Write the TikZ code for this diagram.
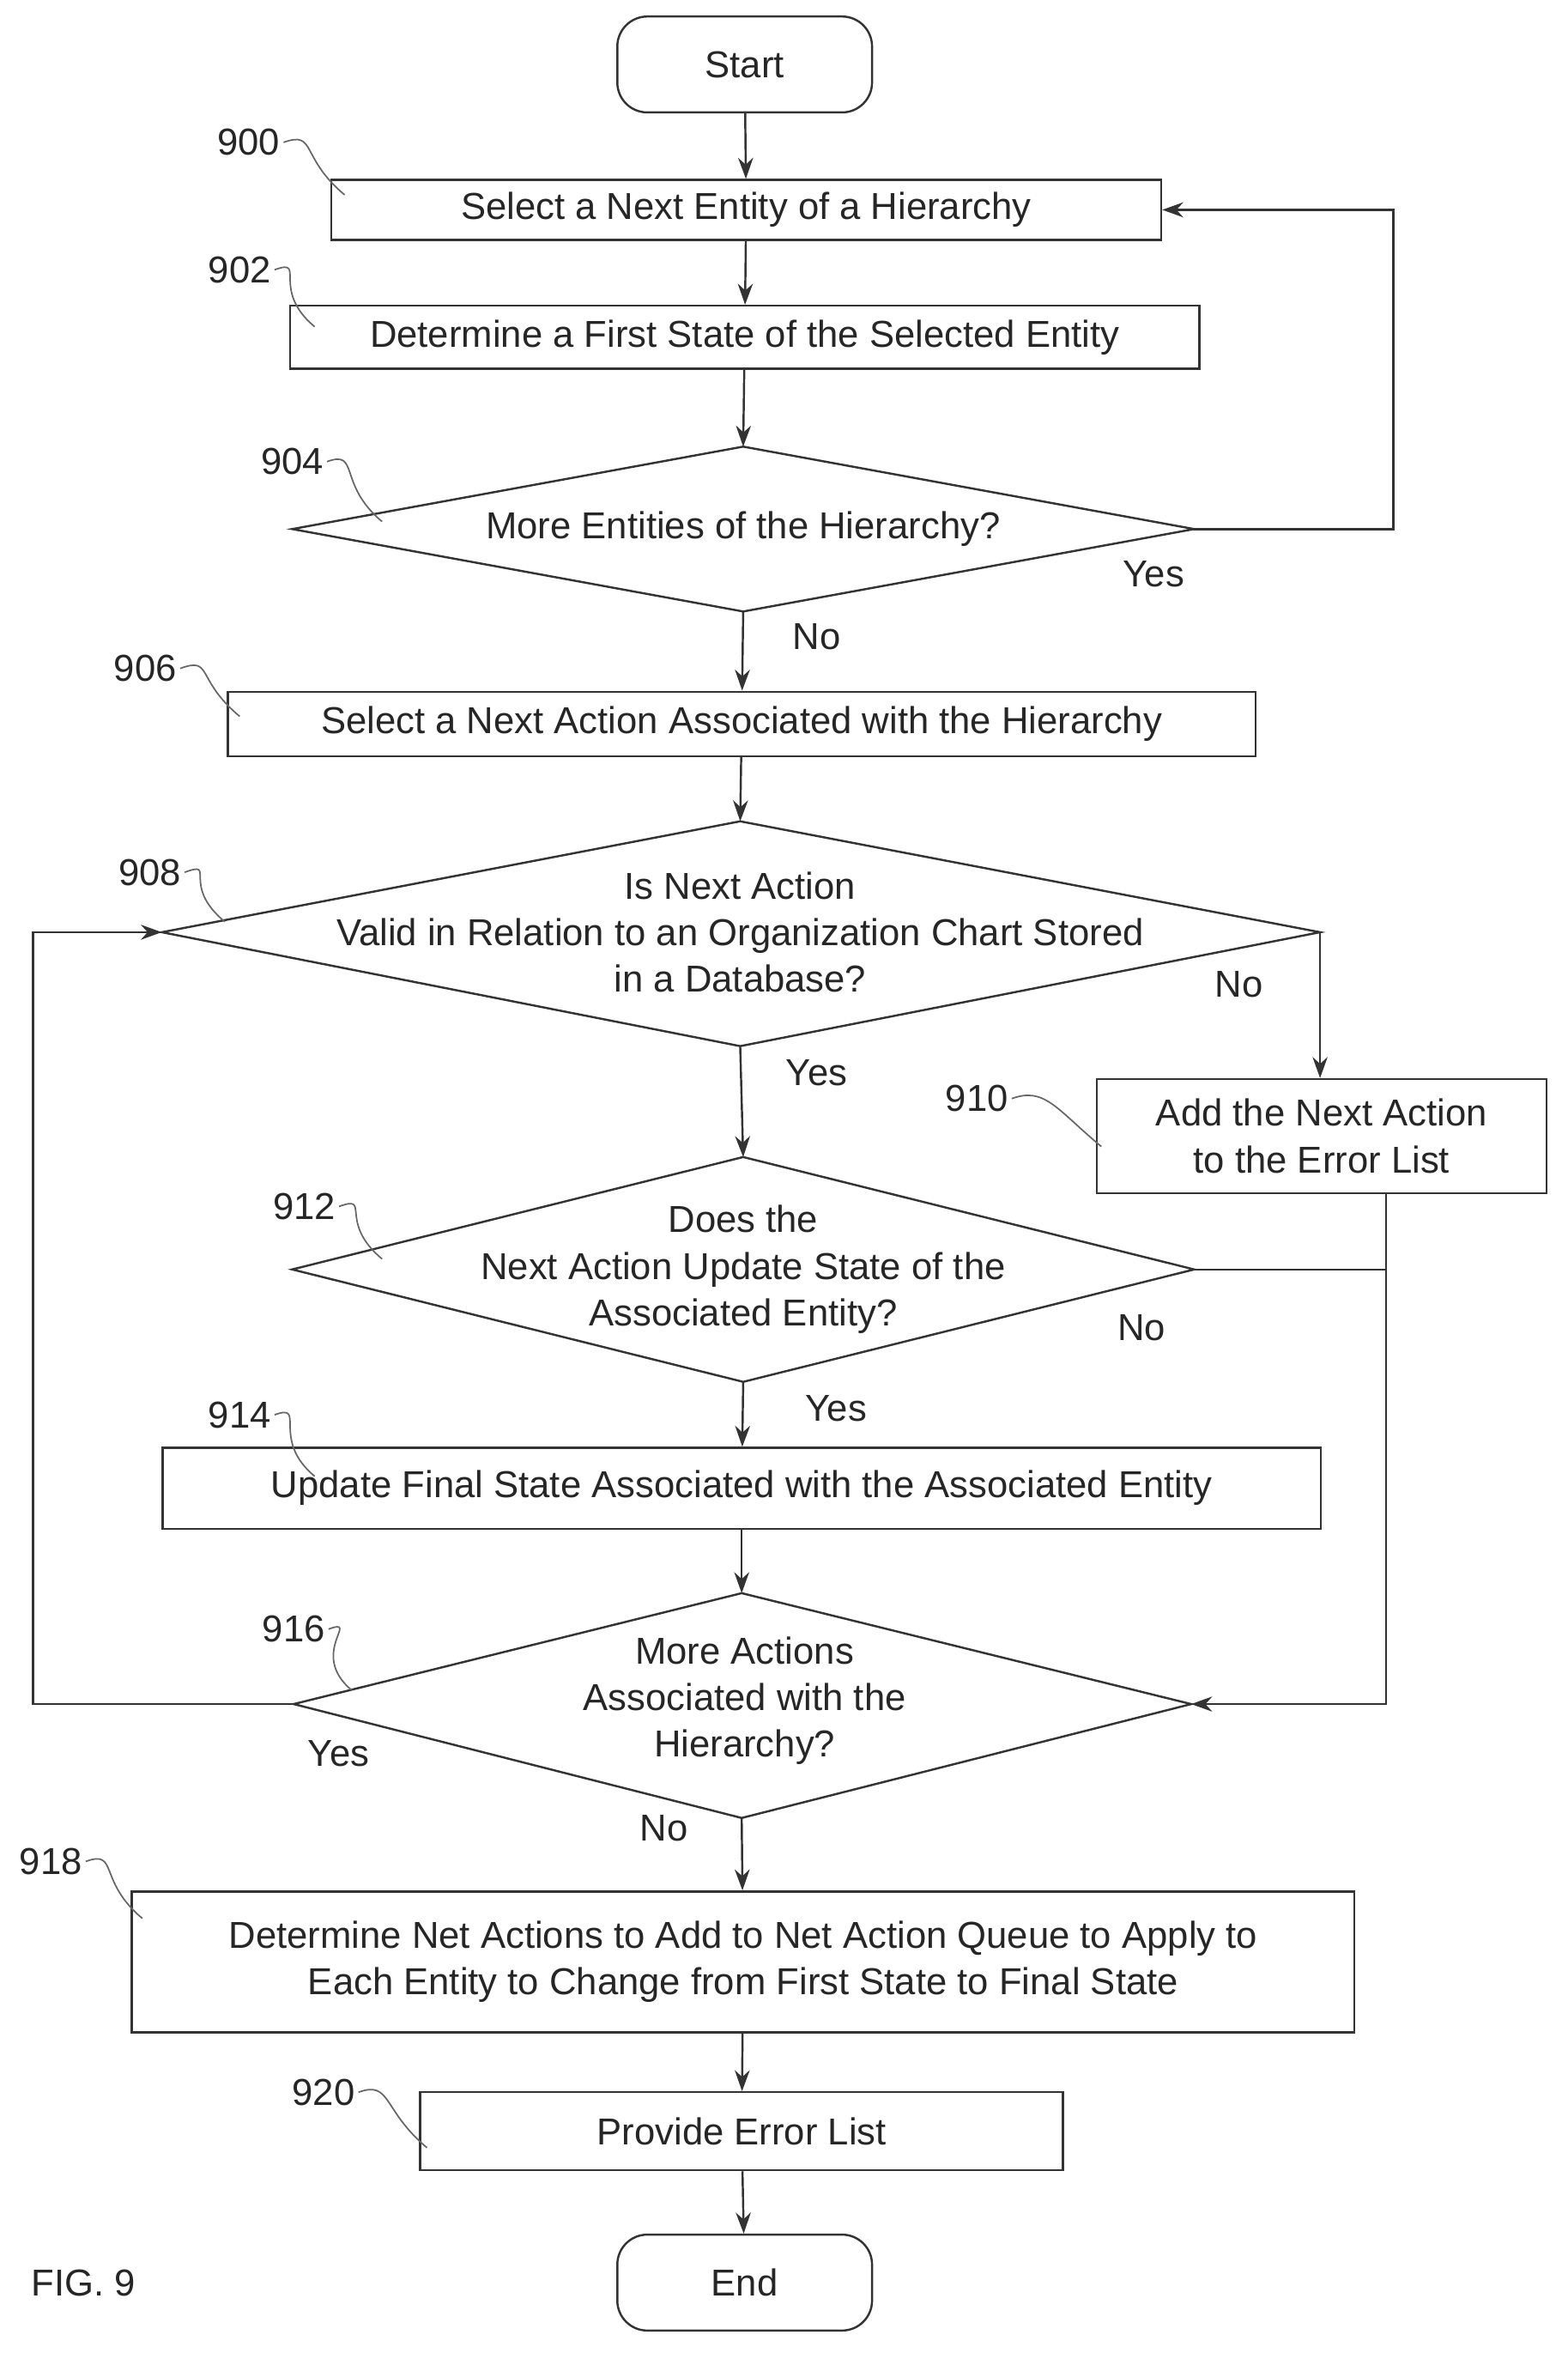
\documentclass[tikz,border=0pt]{standalone}
\usepackage{fontspec}
\setmainfont{Liberation Sans}
\usetikzlibrary{arrows.meta,calc}
\begin{document}
\begin{tikzpicture}[x=0.5pt,y=-0.5pt,
  every node/.style={font=\fontsize{12.5}{15.5}\selectfont, text=black!85},
  box/.style={draw=black!80, line width=0.7pt, inner sep=0pt, align=center},
  term/.style={box, rounded corners=10pt, minimum width=85pt, minimum height=32pt},
  ln/.style={draw=black!80, line width=0.7pt},
  arr/.style={ln, -{Stealth[length=7pt,width=5pt]}},
  lab/.style={inner sep=1pt},
  lead/.style={draw=black!60, line width=0.5pt}]
\useasboundingbox (0,0) rectangle (1046,1570);
% nodes
\node[term] (start) at (497,43) {Start};
\node[box, minimum width=277pt, minimum height=20pt] (n900) at (498,140) {Select a Next Entity of a Hierarchy};
\node[box, minimum width=303.5pt, minimum height=21pt] (n902) at (497,225) {Determine a First State of the Selected Entity};
\coordinate (d904t) at (496,298); \coordinate (d904b) at (496,408);
\coordinate (d904l) at (195,353); \coordinate (d904r) at (797,353);
\draw[ln] (d904t)--(d904r)--(d904b)--(d904l)--cycle;
\node (t904) at (496,353) {More Entities of the Hierarchy?};
\node[box, minimum width=343pt, minimum height=21.5pt] (n906) at (495,483) {Select a Next Action Associated with the Hierarchy};
\coordinate (d908t) at (494,548); \coordinate (d908b) at (494,698);
\coordinate (d908l) at (108,622); \coordinate (d908r) at (881,622);
\draw[ln] (d908t)--(d908r)--(d908b)--(d908l)--cycle;
\node[align=center] (t908) at (494,622) {Is Next Action\\Valid in Relation to an Organization Chart Stored\\in a Database?};
\node[box, minimum width=150pt, minimum height=38pt] (n910) at (882,758) {Add the Next Action\\to the Error List};
\coordinate (d912t) at (496,772); \coordinate (d912b) at (496,922);
\coordinate (d912l) at (195,847); \coordinate (d912r) at (797,847);
\draw[ln] (d912t)--(d912r)--(d912b)--(d912l)--cycle;
\node[align=center] (t912) at (496,847) {Does the\\Next Action Update State of the\\Associated Entity?};
\node[box, minimum width=386.5pt, minimum height=27pt] (n914) at (495,993) {Update Final State Associated with the Associated Entity};
\coordinate (d916t) at (495,1063); \coordinate (d916b) at (495,1213);
\coordinate (d916l) at (196,1137); \coordinate (d916r) at (795,1137);
\draw[ln] (d916t)--(d916r)--(d916b)--(d916l)--cycle;
\node[align=center] (t916) at (497,1135) {More Actions\\Associated with the\\Hierarchy?};
\node[box, minimum width=408pt, minimum height=47pt] (n918) at (496,1309) {Determine Net Actions to Add to Net Action Queue to Apply to\\Each Entity to Change from First State to Final State};
\node[box, minimum width=214.5pt, minimum height=26pt] (n920) at (495,1422) {Provide Error List};
\node[term] (end) at (497,1523) {End};
\node[anchor=west] (fig) at (14,1523) {FIG. 9};
% connectors
\draw[arr] (start) -- (n900);
\draw[arr] (n900) -- (n902);
\draw[arr] (n902) -- (d904t);
\coordinate (c1) at (930,353); \coordinate (c2) at (930,140);
\draw[arr] (d904r) -- (c1) -- (c2) -- (n900.east);
\draw[arr] (d904b) -- (n906);
\draw[arr] (n906) -- (d908t);
\coordinate (c3) at (881,622);
\draw[arr] (d908r) -- (n910.north -| c3);
\draw[arr] (d908b) -- (d912t);
\coordinate (c4) at (925,847); \coordinate (c5) at (925,1137);
\draw[ln] (d912r) -- (c4);
\draw[arr] (n910.south -| c4) -- (c5) -- (d916r);
\draw[arr] (d912b) -- (n914);
\draw[arr] (n914) -- (d916t);
\coordinate (c6) at (22,1137); \coordinate (c7) at (22,622);
\draw[arr] (d916l) -- (c6) -- (c7) -- (d908l);
\draw[arr] (d916b) -- (n918);
\draw[arr] (n918) -- (n920);
\draw[arr] (n920) -- (end);
% branch labels
\node[lab] (y904) at (770,383) {Yes};
\node[lab] (no904) at (545,425) {No};
\node[lab] (no908) at (827,657) {No};
\node[lab] (y908) at (545,716) {Yes};
\node[lab] (no912) at (762,886) {No};
\node[lab] (y912) at (558,940) {Yes};
\node[lab] (y916) at (226,1170) {Yes};
\node[lab] (no916) at (443,1220) {No};
% reference numerals with leaders
\foreach \t/\lx/\ly/\ex/\ey in {900/166/95/230/130, 902/160/180/210/218, 904/195/308/255/348, 906/97/446/160/478, 908/100/582/150/615, 910/652/733/735/765, 912/203/805/255/840, 914/160/944/210/985, 916/196/1087/235/1128, 918/34/1242/95/1280, 920/216/1396/285/1433}{
  \node[lab] (r\t) at (\lx,\ly) {\t};
  \coordinate (e\t) at (\ex,\ey);
  \draw[lead] (r\t.east) .. controls ($(r\t.east)+(22,-8)$) and ($(e\t)+(-30,-25)$) .. (e\t);
}
\end{tikzpicture}
\end{document}
